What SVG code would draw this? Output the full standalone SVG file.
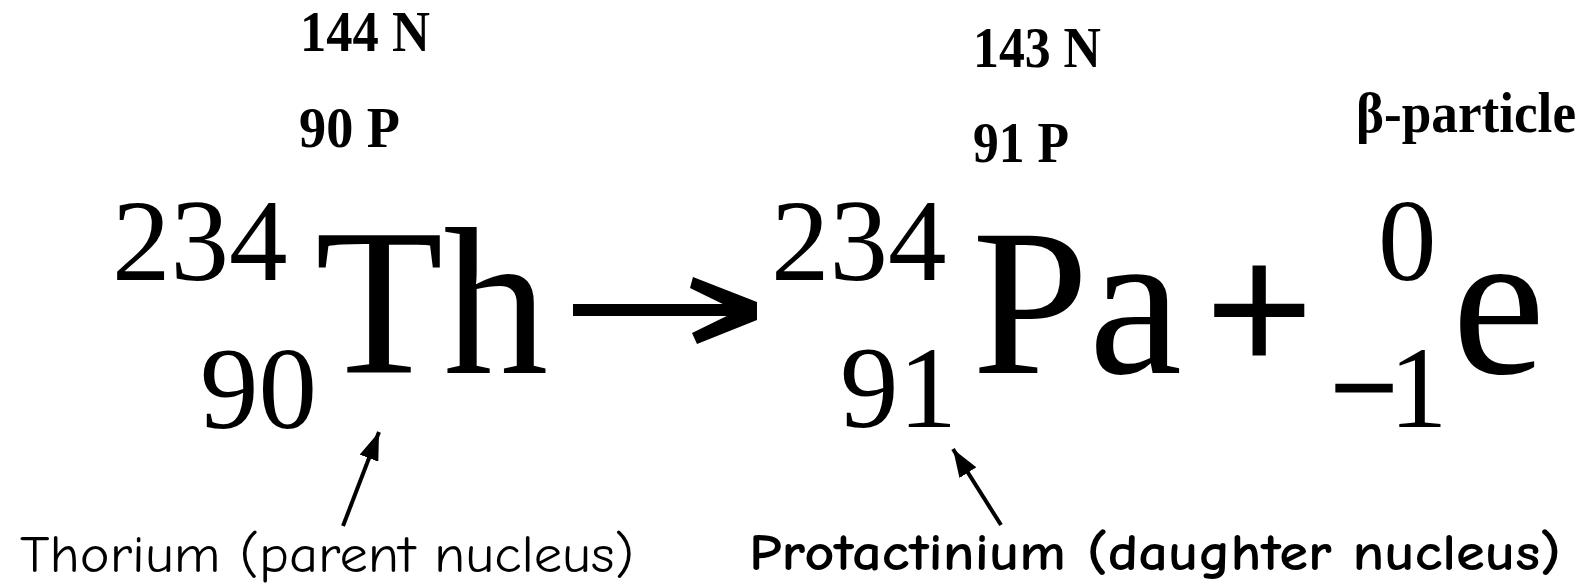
<svg xmlns="http://www.w3.org/2000/svg" width="1587" height="586" viewBox="0 0 1587 586">
<defs>
<style>
.lbl{font-family:"Liberation Serif","Times New Roman",serif;font-weight:bold;font-size:56px;fill:#000}
.big{font-family:"Liberation Serif","Times New Roman",serif;font-size:210px;fill:#000}
.sm{font-family:"Liberation Serif","Times New Roman",serif;font-size:117px;fill:#000}
.cap{font-family:"Comic Sans MS","Comic Neue","Open Sans",sans-serif;font-size:53px;fill:#000}
.conn{stroke:#000;stroke-width:4;fill:none}
</style>
<marker id="ah" markerUnits="userSpaceOnUse" markerWidth="30" markerHeight="20" refX="28" refY="10" orient="auto">
<path d="M0,0 L28,10 L0,20 Z" fill="#000"/>
</marker>
</defs>
<rect width="1587" height="586" fill="#fff"/>
<g id="thorium">
<text class="lbl" x="300" y="51" textLength="130" lengthAdjust="spacingAndGlyphs">144 N</text>
<text class="lbl" x="299" y="147" textLength="101" lengthAdjust="spacingAndGlyphs">90 P</text>
<text class="sm" x="112" y="280">234</text>
<text class="sm" x="200" y="428">90</text>
<text class="big" x="315" y="373">Th</text>
</g>
<g id="reaction-arrow">
<rect x="573" y="304" width="172" height="12" fill="#000"/>
<polygon points="693,277 757,302 757,320 697,344 692,333 737,311 690,288" fill="#000"/>
</g>
<g id="protactinium">
<text class="lbl" x="973" y="67" textLength="128" lengthAdjust="spacingAndGlyphs">143 N</text>
<text class="lbl" x="973" y="162" textLength="96" lengthAdjust="spacingAndGlyphs">91 P</text>
<text class="sm" x="771" y="280">234</text>
<text class="sm" x="840" y="427">91</text>
<text class="big" x="972" y="373">Pa</text>
</g>
<g id="plus">
<text class="big" x="1207" y="372" style="font-size:185px;stroke:#000;stroke-width:4">+</text>
</g>
<g id="beta">
<text class="lbl" x="1356" y="132" textLength="220" lengthAdjust="spacingAndGlyphs">β-particle</text>
<text class="sm" x="1378" y="280">0</text>
<text class="sm" x="1331" y="427"><tspan style="stroke:#000;stroke-width:3;letter-spacing:-8px">−</tspan>1</text>
<text class="big" x="1452" y="373">e</text>
</g>
<g id="label-thorium">
<text class="cap" x="20" y="572" textLength="614" lengthAdjust="spacingAndGlyphs">Thorium (parent nucleus)</text>
</g>
<g id="label-protactinium">
<text class="cap" x="749" y="570" style="font-weight:bold" textLength="812" lengthAdjust="spacingAndGlyphs">Protactinium (daughter nucleus)</text>
</g>
<g id="connectors">
<line class="conn" x1="343" y1="526" x2="379" y2="432" marker-end="url(#ah)"/>
<line class="conn" x1="1001" y1="525" x2="953" y2="449" marker-end="url(#ah)"/>
</g>
</svg>
